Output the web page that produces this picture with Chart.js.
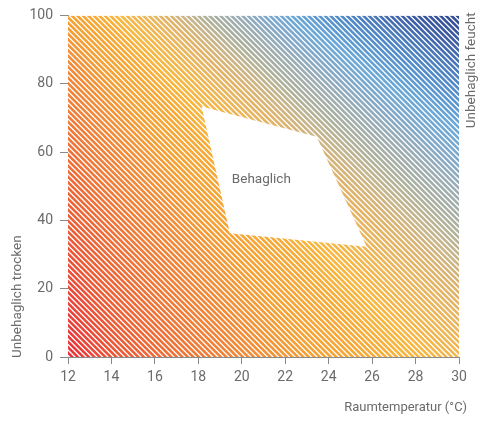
<!DOCTYPE html>
<html>
<head>
<meta charset="utf-8">
<script src="https://cdn.jsdelivr.net/npm/chart.js@4.4.1/dist/chart.umd.min.js"></script>
<style>
  html, body { margin: 0; padding: 0; background: #fff; }
  #wrap { width: 485px; height: 425px; }
</style>
</head>
<body>
<div id="wrap"><canvas id="chart"></canvas></div>
<script>
// Data
const X_TICKS = [12, 14, 16, 18, 20, 22, 24, 26, 28, 30]
const Y_TICKS = [0, 20, 40, 60, 80, 100]
const FIELD_X = [12, 30]
const FIELD_Y = [100, 100]
const ZONE_X = [18.15, 23.45, 25.75, 19.45, 18.15]
const ZONE_Y = [73.3, 64.5, 32.3, 36.2, 73.3]
const ZONE_LABEL = 'Behaglich'
const ZONE_LABEL_AT = [20.9, 51.8]
const X_TITLE = 'Raumtemperatur (°C)'
const DRY_LABEL = 'Unbehaglich trocken'
const WET_LABEL = 'Unbehaglich feucht'

// Look
const FONT = "'Roboto', sans-serif"
const AXIS = '#8a8a8a'
const TEXT = '#6b6b6b'
const STRIPE_GAP = 5.5
// conic gradient centre, as a fraction of the plot box (far up-left, outside)
const CONE_AT = [-0.53, -0.855]
// angle in degrees (clockwise from +x) -> colour
const STOPS = [
  [22, '#2a4088'], [26, '#2e4890'], [28.4, '#3e5ea6'], [30, '#4878b8'],
  [31.5, '#508ac8'], [34.3, '#6aa8d8'], [36.4, '#82a8c8'], [38.2, '#9cacb2'],
  [40.3, '#acb09c'], [42, '#c8b488'], [43.8, '#e0b268'], [46, '#eeb555'],
  [48.7, '#f8b63c'], [51, '#f6aa36'], [54.7, '#f4a033'], [58, '#f18c37'],
  [63, '#ef7436'], [67.5, '#ec5a35'], [72, '#e8303a'], [76, '#e6203a'],
]

let fieldCache = null
function stripedField(context) {
  const chart = context.chart
  const a = chart.chartArea
  if (!a) return 'transparent'
  const key = [chart.width, chart.height, a.left, a.top, a.right, a.bottom].join()
  if (fieldCache && fieldCache.key === key) return fieldCache.pattern

  const off = document.createElement('canvas')
  off.width = chart.width
  off.height = chart.height
  const g = off.getContext('2d')
  const w = a.right - a.left
  const h = a.bottom - a.top
  const grad = g.createConicGradient(0, a.left + CONE_AT[0] * w, a.top + CONE_AT[1] * h)
  STOPS.forEach(([deg, c]) => grad.addColorStop(deg / 360, c))
  g.fillStyle = grad
  g.fillRect(0, 0, off.width, off.height)

  g.strokeStyle = '#fff'
  g.lineWidth = 1.3
  g.beginPath()
  for (let s = -off.height; s < off.width + off.height; s += STRIPE_GAP) {
    g.moveTo(s, 0)
    g.lineTo(s + off.height, off.height)
  }
  g.stroke()

  const pattern = chart.ctx.createPattern(off, 'no-repeat')
  fieldCache = { key, pattern }
  return pattern
}

const labelsPlugin = {
  id: 'labels',
  afterDatasetsDraw(chart) {
    const { ctx, scales } = chart
    ctx.save()
    ctx.fillStyle = TEXT
    ctx.textBaseline = 'middle'

    ctx.font = '13.5px ' + FONT
    ctx.textAlign = 'center'
    ctx.fillText(ZONE_LABEL, scales.x.getPixelForValue(ZONE_LABEL_AT[0]), scales.y.getPixelForValue(ZONE_LABEL_AT[1]))

    ctx.font = '13px ' + FONT
    ctx.textAlign = 'right'
    ctx.fillText(X_TITLE, 467, 408)

    ctx.font = '13.5px ' + FONT
    ctx.save()
    ctx.translate(17.5, chart.chartArea.bottom + 1)
    ctx.rotate(-Math.PI / 2)
    ctx.textAlign = 'left'
    ctx.fillText(DRY_LABEL, 0, 0)
    ctx.restore()

    ctx.save()
    ctx.translate(472, chart.chartArea.top - 3)
    ctx.rotate(-Math.PI / 2)
    ctx.textAlign = 'right'
    ctx.fillText(WET_LABEL, 0, 0)
    ctx.restore()

    ctx.restore()
  },
}

const toPoints = (xs, ys) => xs.map((x, i) => ({ x, y: ys[i] }))

new Chart(document.getElementById('chart'), {
  type: 'scatter',
  data: {
    datasets: [
      {
        label: ZONE_LABEL,
        data: toPoints(ZONE_X, ZONE_Y),
        showLine: true,
        fill: 'shape',
        backgroundColor: '#fff',
        borderColor: '#fff',
        borderWidth: 0,
        pointRadius: 0,
        order: 0,
      },
      {
        label: 'field',
        data: toPoints(FIELD_X, FIELD_Y),
        showLine: true,
        fill: 'origin',
        backgroundColor: stripedField,
        borderWidth: 0,
        pointRadius: 0,
        order: 1,
      },
    ],
  },
  options: {
    responsive: true,
    maintainAspectRatio: false,
    animation: false,
    layout: { padding: { top: 15, right: 26, left: 0, bottom: 0 } },
    plugins: { legend: { display: false }, tooltip: { enabled: false } },
    scales: {
      x: {
        type: 'linear',
        min: 12,
        max: 30,
        afterBuildTicks: (s) => { s.ticks = X_TICKS.map((v) => ({ value: v })) },
        afterFit: (s) => { s.height = 68 },
        grid: { drawOnChartArea: false, color: AXIS, tickLength: 7 },
        border: { color: AXIS },
        ticks: { color: TEXT, font: { family: FONT, size: 14 }, padding: 5, maxRotation: 0 },
      },
      y: {
        type: 'linear',
        min: 0,
        max: 100,
        afterBuildTicks: (s) => { s.ticks = Y_TICKS.map((v) => ({ value: v })) },
        afterFit: (s) => { s.width = 68 },
        grid: { drawOnChartArea: false, color: AXIS, tickLength: 8 },
        border: { color: AXIS },
        ticks: { color: TEXT, font: { family: FONT, size: 14 }, padding: 7 },
      },
    },
  },
  plugins: [labelsPlugin],
})
</script>
</body>
</html>
